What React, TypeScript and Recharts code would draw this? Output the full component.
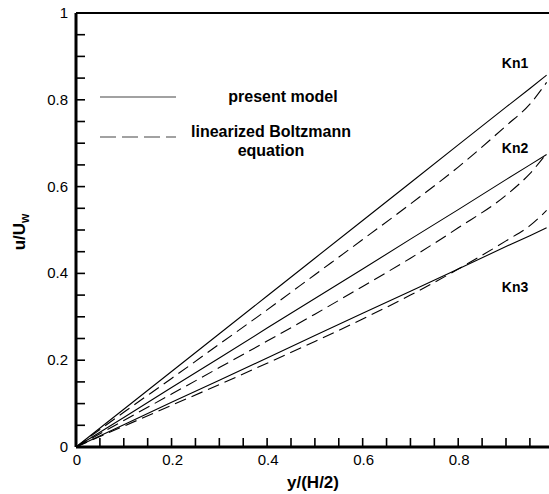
import { LineChart, Line, XAxis, YAxis, ReferenceLine } from 'recharts';

// wall-normal position y/(H/2)
const positions = [0, 0.1, 0.2, 0.3, 0.4, 0.5, 0.6, 0.7, 0.8, 0.9, 0.95, 0.985];

// present model (solid)
const kn1Model = [0, 0.087, 0.174, 0.261, 0.348, 0.435, 0.522, 0.609, 0.696, 0.783, 0.826, 0.857];
const kn2Model = [0, 0.068, 0.137, 0.205, 0.274, 0.342, 0.41, 0.479, 0.547, 0.616, 0.65, 0.674];
const kn3Model = [0, 0.051, 0.103, 0.154, 0.205, 0.257, 0.308, 0.359, 0.41, 0.462, 0.487, 0.505];

// linearized Boltzmann equation (dashed)
const kn1Lbe = [0, 0.08, 0.158, 0.237, 0.316, 0.397, 0.478, 0.56, 0.645, 0.74, 0.79, 0.84];
const kn2Lbe = [0, 0.061, 0.122, 0.183, 0.244, 0.306, 0.37, 0.435, 0.505, 0.58, 0.63, 0.676];
const kn3Lbe = [0, 0.048, 0.096, 0.144, 0.193, 0.243, 0.295, 0.35, 0.41, 0.475, 0.51, 0.545];

const xTicks = [0, 0.05, 0.1, 0.15, 0.2, 0.25, 0.3, 0.35, 0.4, 0.45, 0.5, 0.55, 0.6, 0.65, 0.7, 0.75, 0.8, 0.85, 0.9, 0.95];
const yTicks = [0, 0.05, 0.1, 0.15, 0.2, 0.25, 0.3, 0.35, 0.4, 0.45, 0.5, 0.55, 0.6, 0.65, 0.7, 0.75, 0.8, 0.85, 0.9, 0.95, 1];

const data = positions.map((x, i) => ({
  x,
  kn1Model: kn1Model[i],
  kn2Model: kn2Model[i],
  kn3Model: kn3Model[i],
  kn1Lbe: kn1Lbe[i],
  kn2Lbe: kn2Lbe[i],
  kn3Lbe: kn3Lbe[i],
}));

const FONT = 'Liberation Sans, Arial, Helvetica, sans-serif';
const TICK = 9; // inward tick length, px

const isMajor = (v: number) => Math.abs(v / 0.2 - Math.round(v / 0.2)) < 1e-6;
const fmt = (v: number) => (v === 0 ? '0' : v === 1 ? '1' : String(+v.toFixed(1)));

// with a negative tickSize the label anchor sits at the inner end of the tick
const XTick = (props: any) => {
  const { x, y, payload } = props;
  if (!isMajor(payload.value)) return <g />;
  return (
    <text x={x + 1} y={y + TICK + 18} textAnchor="middle" fontSize={15} fontFamily={FONT} fill="#000">
      {fmt(payload.value)}
    </text>
  );
};

const YTick = (props: any) => {
  const { x, y, payload } = props;
  if (!isMajor(payload.value)) return <g />;
  return (
    <text x={x - TICK - 8} y={y + 5} textAnchor="end" fontSize={15} fontFamily={FONT} fill="#000">
      {fmt(payload.value)}
    </text>
  );
};

const lineProps = {
  stroke: '#000',
  strokeWidth: 1.1,
  dot: false,
  activeDot: false,
  isAnimationActive: false,
};

export default function App() {
  return (
    <div style={{ position: 'absolute', left: 0, top: 0 }}>
      <LineChart width={549} height={494} data={data} margin={{ top: 13, right: 0, bottom: 0, left: 0 }}>
        <XAxis
          dataKey="x"
          type="number"
          domain={[0, 0.99]}
          ticks={xTicks}
          interval={0}
          height={47}
          tickSize={-TICK}
          tickMargin={0}
          tickLine={{ stroke: '#000', strokeWidth: 1.6 }}
          tick={<XTick />}
          axisLine={{ stroke: '#000', strokeWidth: 3 }}
        />
        <YAxis
          type="number"
          domain={[0, 1]}
          ticks={yTicks}
          interval={0}
          width={76}
          tickSize={-TICK}
          tickMargin={0}
          tickLine={{ stroke: '#000', strokeWidth: 1.6 }}
          tick={<YTick />}
          axisLine={{ stroke: '#000', strokeWidth: 3 }}
        />
        <ReferenceLine y={1} stroke="#000" strokeWidth={2} ifOverflow="visible" />
        <Line type="linear" dataKey="kn1Model" {...lineProps} />
        <Line type="linear" dataKey="kn2Model" {...lineProps} />
        <Line type="linear" dataKey="kn3Model" {...lineProps} />
        <Line type="monotone" dataKey="kn1Lbe" {...lineProps} strokeDasharray="12 6" />
        <Line type="monotone" dataKey="kn2Lbe" {...lineProps} strokeDasharray="12 6" />
        <Line type="monotone" dataKey="kn3Lbe" {...lineProps} strokeDasharray="12 6" />

        {/* legend */}
        <line x1={100} y1={97} x2={176} y2={97} stroke="#444" strokeWidth={1.2} />
        <line x1={100} y1={137} x2={176} y2={137} stroke="#444" strokeWidth={1.2} strokeDasharray="16 6" />
        <text x={283} y={102} textAnchor="middle" fontSize={16} fontWeight="bold" fontFamily={FONT}>present model</text>
        <text x={271} y={137} textAnchor="middle" fontSize={16} fontWeight="bold" fontFamily={FONT}>linearized Boltzmann</text>
        <text x={271} y={156} textAnchor="middle" fontSize={16} fontWeight="bold" fontFamily={FONT}>equation</text>

        {/* curve labels */}
        <text x={515} y={68} textAnchor="middle" fontSize={14} fontWeight="bold" fontFamily={FONT}>Kn1</text>
        <text x={515} y={153} textAnchor="middle" fontSize={14} fontWeight="bold" fontFamily={FONT}>Kn2</text>
        <text x={515} y={292} textAnchor="middle" fontSize={14} fontWeight="bold" fontFamily={FONT}>Kn3</text>

        {/* axis titles */}
        <text x={313} y={488} textAnchor="middle" fontSize={17} fontWeight="bold" fontFamily={FONT}>y/(H/2)</text>
        <text transform="translate(25,232) rotate(-90)" textAnchor="middle" fontSize={17} fontWeight="bold" fontFamily={FONT}>
          u/U<tspan fontSize={12} dy={4}>w</tspan>
        </text>
      </LineChart>
    </div>
  );
}
